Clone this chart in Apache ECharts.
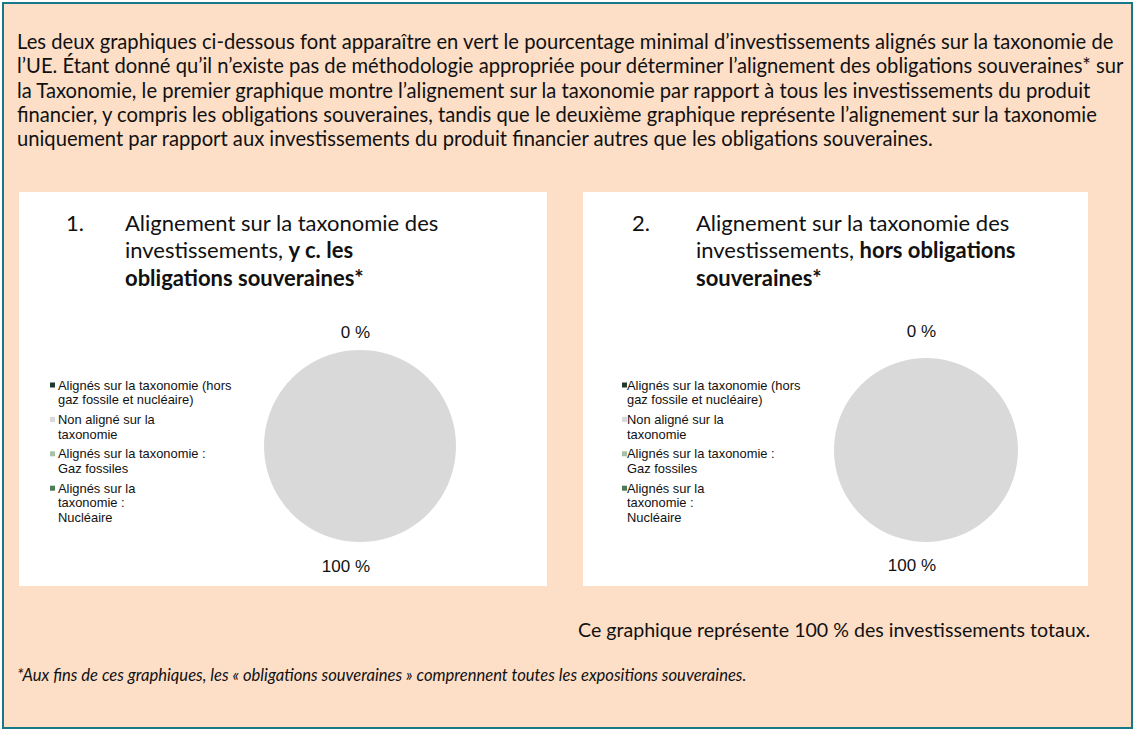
<!DOCTYPE html>
<html>
<head>
<meta charset="utf-8">
<script src="https://cdn.jsdelivr.net/npm/echarts@6/dist/echarts.min.js"></script>
<style>
  html, body { margin: 0; padding: 0; background: #ffffff; }
  #chart { width: 1136px; height: 731px; }
</style>
</head>
<body>
<div id="chart"></div>
<script>
// Categories shared by both pies (legend order)
const categories = [
  'Alignés sur la taxonomie (hors gaz fossile et nucléaire)',
  'Non aligné sur la taxonomie',
  'Alignés sur la taxonomie : Gaz fossiles',
  'Alignés sur la taxonomie : Nucléaire'
];
// Wrapped legend labels, same order as categories
const legendLabels = [
  'Alignés sur la taxonomie (hors\ngaz fossile et nucléaire)',
  'Non aligné sur la\ntaxonomie',
  'Alignés sur la taxonomie :\nGaz fossiles',
  'Alignés sur la\ntaxonomie :\nNucléaire'
];
// Shares in % — chart 1 includes sovereign bonds, chart 2 excludes them
const valuesInclSovereign = [0, 100, 0, 0];
const valuesExclSovereign = [0, 100, 0, 0];
// Slices whose value is labelled on the pie
const labelledSlices = [true, true, false, false];

const sliceColors = ['#1f3a2b', '#d9d9d9', '#a6c2a6', '#4e7c56'];

const introLines = [
  'Les deux graphiques ci-dessous font apparaître en vert le pourcentage minimal d’investissements alignés sur la taxonomie de',
  'l’UE. Étant donné qu’il n’existe pas de méthodologie appropriée pour déterminer l’alignement des obligations souveraines* sur',
  'la Taxonomie, le premier graphique montre l’alignement sur la taxonomie par rapport à tous les investissements du produit',
  'financier, y compris les obligations souveraines, tandis que le deuxième graphique représente l’alignement sur la taxonomie',
  'uniquement par rapport aux investissements du produit financier autres que les obligations souveraines.'
];
const title1 = ['1.', 'Alignement sur la taxonomie des', 'investissements, ', 'y c. les', 'obligations souveraines*'];
const title2 = ['2.', 'Alignement sur la taxonomie des', 'investissements, ', 'hors obligations', 'souveraines*'];
const coverageNote = 'Ce graphique représente 100 % des investissements totaux.';
const footnote = '*Aux fins de ces graphiques, les « obligations souveraines » comprennent toutes les expositions souveraines.';

const BODY_FONT = 'Lato, "Open Sans", sans-serif';
const LEGEND_FONT = '"Liberation Sans", Arial, sans-serif';
const INK = '#111111';

const chart = echarts.init(document.getElementById('chart'), null, { renderer: 'svg' });

function txt(text, x, y, size, extra) {
  return {
    type: 'text', silent: true,
    style: Object.assign({
      text: text, x: x, y: y,
      fontFamily: BODY_FONT, fontSize: size, fill: INK,
      verticalAlign: 'middle', align: 'left'
    }, extra || {})
  };
}

function titleBlock(parts, numX, textX, top) {
  const lh = 27.5, fs = 22;
  const rich = { n: { fontFamily: BODY_FONT, fontSize: fs, fill: INK },
                 b: { fontFamily: BODY_FONT, fontSize: fs, fill: INK, fontWeight: 'bold' } };
  return [
    txt(parts[0], numX, top, fs),
    txt(parts[1], textX, top, fs),
    { type: 'text', silent: true, style: { text: '{n|' + parts[2] + '}{b|' + parts[3] + '}', x: textX, y: top + lh,
        verticalAlign: 'middle', rich: rich, fontFamily: BODY_FONT, fontSize: fs } },
    txt(parts[4], textX, top + 2 * lh, fs, { fontWeight: 'bold' })
  ];
}

// Legend: small square swatch aligned with the first line of each wrapped label
function legendBlock(markerX, textX, firstY) {
  const lh = 14.6, gap = 5.2;
  const out = [];
  let y = firstY;
  categories.forEach(function (name, i) {
    const lines = legendLabels[i].split('\n');
    out.push({ type: 'rect', silent: true, shape: { x: markerX, y: y - 2.5, width: 5, height: 5 },
               style: { fill: sliceColors[i] } });
    out.push({ type: 'text', silent: true, style: {
      text: legendLabels[i], x: textX, y: y - lh / 2, verticalAlign: 'top',
      fontFamily: LEGEND_FONT, fontSize: 12.9, lineHeight: lh, fill: INK } });
    y += lines.length * lh + gap;
  });
  return out;
}

function pieSeries(values, center, radius, labelReach, labelShiftY) {
  return {
    type: 'pie',
    center: center,
    radius: radius,
    startAngle: 90,
    clockwise: true,
    avoidLabelOverlap: false,
    silent: true,
    itemStyle: { borderWidth: 0 },
    label: {
      position: 'outside',
      formatter: '{c} %',
      fontFamily: '"Liberation Sans", Arial, sans-serif',
      fontSize: 17,
      color: INK,
      distanceToLabelLine: 0
    },
    labelLine: { show: false, length: labelReach, length2: 0 },
    labelLayout: { dx: 10, dy: labelShiftY },
    data: values.map(function (v, i) {
      return { name: categories[i], value: v, itemStyle: { color: sliceColors[i] },
               label: { show: labelledSlices[i] } };
    })
  };
}

const graphics = [
  { type: 'rect', silent: true, shape: { x: 3, y: 3, width: 1129, height: 725 },
    style: { fill: '#fddfc8', stroke: '#16798a', lineWidth: 2 } },
  { type: 'rect', silent: true, shape: { x: 19, y: 192, width: 528, height: 394 }, style: { fill: '#ffffff' } },
  { type: 'rect', silent: true, shape: { x: 583, y: 192, width: 505, height: 394 }, style: { fill: '#ffffff' } }
];
introLines.forEach(function (line, i) {
  graphics.push(txt(line, 17, 41 + i * 24.3, 20.2));
});
titleBlock(title1, 66, 125, 222).forEach(function (g) { graphics.push(g); });
titleBlock(title2, 632, 696, 222).forEach(function (g) { graphics.push(g); });
legendBlock(50, 58, 385).forEach(function (g) { graphics.push(g); });
legendBlock(622, 627, 385).forEach(function (g) { graphics.push(g); });
graphics.push(txt(coverageNote, 578, 629, 19.6));
graphics.push(txt(footnote, 17, 675, 16.6, { fontStyle: 'italic' }));

chart.setOption({
  animation: false,
  backgroundColor: '#ffffff',
  graphic: { elements: graphics },
  series: [
    pieSeries(valuesInclSovereign, [360, 446], 96, 21, 3),
    pieSeries(valuesExclSovereign, [926, 450], 92, 25, -2)
  ]
});
</script>
</body>
</html>
